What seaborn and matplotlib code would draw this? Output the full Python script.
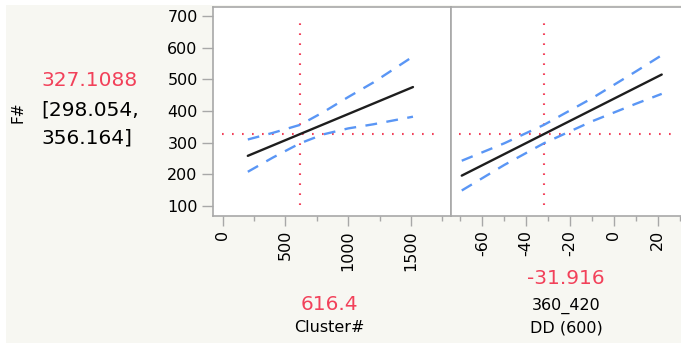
import numpy as np
import pandas as pd
import matplotlib.pyplot as plt
import seaborn as sns
from matplotlib.patches import Rectangle
from matplotlib.ticker import MultipleLocator

# Prediction profiler values
pred_value = 327.1088
pred_low, pred_high = 298.054, 356.164

cluster_now = 616.4
cluster_x = [200, 400, 616.4, 800, 1000, 1200, 1516]
cluster_fit = [258.4, 291.4, 327.1, 357.4, 390.4, 423.4, 475.6]
cluster_upper = [310.0, 331.0, 356.2, 396.0, 444.0, 490.0, 572.0]
cluster_lower = [208.0, 253.0, 298.0, 326.0, 345.0, 358.0, 382.0]

dd_now = -31.916
dd_x = [-69.4, -50, -31.916, -10, 10, 21.8]
dd_fit = [195.9, 263.8, 327.1, 403.8, 473.8, 515.1]
dd_upper = [242.9, 298.0, 356.2, 440.2, 524.8, 576.1]
dd_lower = [148.9, 229.6, 298.1, 367.4, 422.8, 454.1]

y_ticks = [100, 200, 300, 400, 500, 600, 700]
cluster_ticks = [0, 500, 1000, 1500]
dd_ticks = [-60, -40, -20, 0, 20]

RED = '#f2415a'
BLUE = '#5a96f5'
GREY = '#a8a8a8'
W, H = 681, 343

sns.set_style('white')
plt.rcParams['font.family'] = ['DejaVu Sans']
plt.rcParams['text.color'] = 'black'

fig = plt.figure(figsize=(W / 100, H / 100), dpi=100, facecolor='white')
fig.patches.append(Rectangle((6 / W, 0), 1, 1 - 5 / H, transform=fig.transFigure,
                             facecolor='#f7f7f2', edgecolor='none', zorder=-5))

ax1 = fig.add_axes([213 / W, 1 - 216 / H, 238 / W, 209 / H])
ax2 = fig.add_axes([451 / W, 1 - 216 / H, 239 / W, 209 / H])

panels = [
    (ax1, cluster_x, cluster_fit, cluster_upper, cluster_lower, cluster_now,
     (-77.3, 1819), cluster_ticks, 250, (-5, 1692)),
    (ax2, dd_x, dd_fit, dd_upper, dd_lower, dd_now,
     (-74.3, 34.7), dd_ticks, 10, (-70.5, 26.6)),
]

for ax, xs, fit, up, lo, now, xlim, ticks, minor, hspan in panels:
    df = pd.DataFrame({'x': xs, 'fit': fit, 'up': up, 'lo': lo})
    ax.set_facecolor('white')
    ax.hlines(pred_value, hspan[0], hspan[1], colors=RED, lw=1.5,
              linestyles=(0, (0.8, 4)), zorder=1)
    ax.vlines(now, 103, 682, colors=RED, lw=1.5, linestyles=(0, (0.8, 4)), zorder=1)
    sns.lineplot(data=df, x='x', y='up', ax=ax, color=BLUE, lw=1.7,
                 linestyle=(0, (5, 4)), zorder=2)
    sns.lineplot(data=df, x='x', y='lo', ax=ax, color=BLUE, lw=1.7,
                 linestyle=(0, (5, 4)), zorder=2)
    sns.lineplot(data=df, x='x', y='fit', ax=ax, color='#1e1e1e', lw=1.7, zorder=3)
    ax.set_xlim(*xlim)
    ax.set_ylim(68.4, 728.4)
    ax.set_xticks(ticks)
    ax.xaxis.set_minor_locator(MultipleLocator(minor))
    ax.set_xticklabels([str(t) for t in ticks], rotation=90, fontsize=11.5)
    ax.set_xlabel('')
    ax.set_ylabel('')
    for s in ax.spines.values():
        s.set_color(GREY)
        s.set_linewidth(1.2)
    ax.tick_params(axis='x', which='major', bottom=True, length=7, width=1,
                   color=GREY, pad=3, labelcolor='black')
    ax.tick_params(axis='x', which='minor', bottom=True, length=3.5, width=1,
                   color=GREY)

ax1.set_yticks(y_ticks)
ax1.set_yticklabels([str(t) for t in y_ticks], fontsize=11.5)
ax1.tick_params(axis='y', left=True, length=8, width=1, color=GREY, pad=3,
                labelcolor='black')
ax2.set_yticks([])

# left side readout
fig.text(41 / W, 1 - 81 / H, f'{pred_value:.4f}', color=RED, fontsize=14.5,
         ha='left', va='center')
fig.text(41 / W, 1 - 110 / H, f'[{pred_low:.3f},', color='black', fontsize=14.5,
         ha='left', va='center')
fig.text(41 / W, 1 - 138 / H, f'{pred_high:.3f}]', color='black', fontsize=14.5,
         ha='left', va='center')
fig.text(18 / W, 1 - 112 / H, 'F#', rotation=90, fontsize=11, ha='center', va='center')

# factor readouts
fig.text(329 / W, 1 - 304 / H, f'{cluster_now}', color=RED, fontsize=14.5,
         ha='center', va='center')
fig.text(329 / W, 1 - 328 / H, 'Cluster#', fontsize=11.5, ha='center', va='center')
fig.text(566 / W, 1 - 279 / H, f'{dd_now}', color=RED, fontsize=14.5,
         ha='center', va='center')
fig.text(566 / W, 1 - 306 / H, '360_420', fontsize=11.5, ha='center', va='center')
fig.text(566 / W, 1 - 328 / H, 'DD (600)', fontsize=11.5, ha='center', va='center')

fig.savefig('out.png', dpi=100, facecolor=fig.get_facecolor())
